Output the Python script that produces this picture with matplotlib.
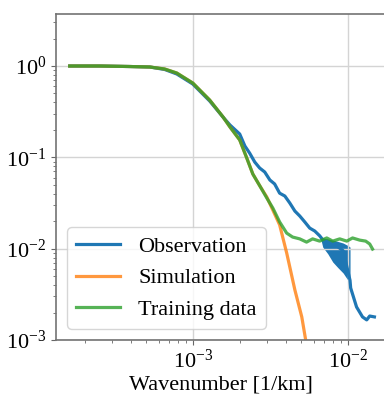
#!/usr/bin/env python3

import matplotlib

matplotlib.use("Agg")
import matplotlib.pyplot as plt

plt.rcParams["font.family"] = ["Liberation Serif", "DejaVu Serif"]
plt.rcParams["mathtext.fontset"] = "stix"

# wavenumber [1/km] and normalised spectrum values
obs_k = [
        1.60e-4, 2.50e-4, 3.91e-4, 5.26e-4, 6.56e-4, 7.85e-4, 9.96e-4, 1.28e-3,
        1.56e-3, 1.73e-3, 2.00e-3, 2.16e-3, 2.32e-3, 2.50e-3, 2.69e-3, 2.90e-3,
        3.13e-3, 3.36e-3, 3.62e-3, 3.91e-3, 4.21e-3, 4.54e-3, 4.88e-3, 5.26e-3,
        5.66e-3, 6.10e-3, 6.57e-3, 6.87e-3, 7.97e-3, 9.30e-3, 1.03e-2, 1.04e-2,
        1.135e-2, 1.24e-2, 1.32e-2, 1.38e-2, 1.48e-2,
]
obs_p = [
        1.0, 1.0, 0.987, 0.975, 0.916, 0.818, 0.635, 0.414,
        0.276, 0.226, 0.180, 0.133, 0.111, 0.0889, 0.0764, 0.0691,
        0.0565, 0.0511, 0.0405, 0.0377, 0.0316, 0.0258, 0.0228, 0.0196,
        0.0168, 0.0156, 0.0138, 0.0125, 0.0115, 0.0095, 0.0045, 3.71e-3,
        2.30e-3, 1.79e-3, 1.66e-3, 1.83e-3, 1.79e-3,
]

# envelope of the strongly oscillating part of the observation
band_k = [6.60e-3, 6.87e-3, 7.40e-3, 7.97e-3, 8.60e-3, 9.30e-3, 1.00e-2, 1.03e-2]
band_hi = [0.0137, 0.0131, 0.0128, 0.01245, 0.0120, 0.01153, 0.0108, 0.0104]
band_lo = [0.0137, 0.0104, 0.0088, 0.00714, 0.0062, 0.00541, 0.0045, 0.00421]

sim_k = [
        1.60e-4, 2.50e-4, 3.91e-4, 5.26e-4, 6.56e-4, 7.85e-4, 9.96e-4, 1.28e-3,
        1.56e-3, 1.73e-3, 2.00e-3, 2.22e-3, 2.43e-3, 2.70e-3, 2.99e-3, 3.27e-3,
        3.62e-3, 4.02e-3, 4.54e-3, 5.03e-3, 5.33e-3, 5.74e-3,
]
sim_p = [
        1.0, 1.0, 0.987, 0.975, 0.927, 0.838, 0.651, 0.424,
        0.277, 0.215, 0.155, 0.0984, 0.0657, 0.0485, 0.0368, 0.0265,
        0.0182, 8.96e-3, 3.53e-3, 1.79e-3, 1.0e-3, 4.7e-4,
]

train_k = [
        1.60e-4, 2.50e-4, 3.91e-4, 5.26e-4, 6.56e-4, 7.85e-4, 9.96e-4, 1.28e-3,
        1.56e-3, 1.73e-3, 2.00e-3, 2.22e-3, 2.43e-3, 2.70e-3, 2.99e-3, 3.27e-3,
        3.62e-3, 4.02e-3, 4.39e-3, 4.88e-3, 5.40e-3, 5.91e-3, 6.56e-3, 7.29e-3,
        7.97e-3, 8.84e-3, 9.81e-3, 1.07e-2, 1.19e-2, 1.30e-2, 1.38e-2, 1.44e-2,
]
train_p = [
        1.0, 1.0, 0.987, 0.975, 0.927, 0.838, 0.651, 0.424,
        0.277, 0.215, 0.155, 0.0984, 0.0657, 0.0485, 0.0359, 0.0279,
        0.0196, 0.0148, 0.0134, 0.0128, 0.0118, 0.0128, 0.0121, 0.0131,
        0.0121, 0.0128, 0.0121, 0.0131, 0.0124, 0.0121, 0.01125, 0.0099,
]


def main():
        fig = plt.figure(figsize=(3.84, 3.94), dpi=100)
        ax = fig.add_axes([56 / 384, 54 / 394, 330 / 384, 326 / 394])

        ax.fill_between(band_k, band_lo, band_hi, color="#1f77b4", lw=0)
        ax.plot(obs_k, obs_p, color="#1f77b4", lw=2.3, label="Observation")
        ax.plot(sim_k, sim_p, color="#ff7f0e", lw=2.3, alpha=0.8, label="Simulation")
        ax.plot(train_k, train_p, color="#2ca02c", lw=2.3, alpha=0.8, label="Training data")

        ax.set_xscale("log")
        ax.set_yscale("log")
        ax.set_xlim(1.305e-4, 1.758e-2)
        ax.set_ylim(1e-3, 3.71)

        ax.set_xlabel("Wavenumber [1/km]", fontsize=16, labelpad=2)
        ax.tick_params(which="both", labelsize=16, color="0.4")
        ax.grid(True, which="major", color="#d4d4d4", lw=1)
        for sp in ax.spines.values():
                sp.set_color("0.45")
                sp.set_linewidth(1.2)

        ax.legend(loc="lower left", fontsize=16)

        fig.savefig("out.png", dpi=100)


if __name__ == "__main__":
        main()
